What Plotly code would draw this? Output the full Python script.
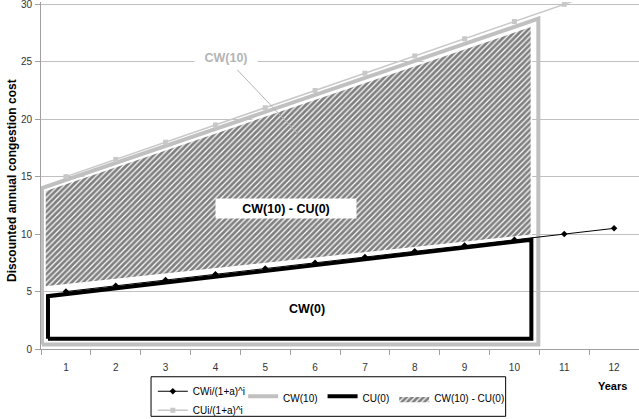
import plotly.graph_objects as go

# ---- data ----
years = list(range(1, 13))
year_labels = [str(y) for y in years]
cw_disc = [5.0, 5.5, 6.0, 6.5, 7.0, 7.5, 8.0, 8.5, 9.0, 9.5, 10.0, 10.5]
cu_disc = [15.0, 16.5, 18.0, 19.5, 21.0, 22.5, 24.0, 25.5, 27.0, 28.5, 30.0, 31.5]

# polygon outlines (x in year units, y in cost units)
cw10_x = [0.52, 0.52, 10.48, 10.48, 0.52]
cw10_y = [0.4, 14.0, 28.75, 0.4, 0.4]
diff_x = [0.58, 0.58, 10.34, 10.34, 0.58]
diff_y = [5.4, 13.8, 28.1, 9.9, 5.4]
cu0_x = [0.64, 0.64, 10.34, 10.34, 0.64]
cu0_y = [0.9, 4.6, 9.5, 0.9, 0.9]

y_ticks = [0, 5, 10, 15, 20, 25, 30]
boundaries = [y - 0.5 for y in years] + [12.5]

FONT = "Liberation Sans, Arial, sans-serif"
GRAY = "#c0c0c0"

fig = go.Figure()

fig.add_trace(go.Scatter(
    x=cw10_x, y=cw10_y, mode="lines", fill="toself",
    fillcolor="rgba(255,255,255,0)", line=dict(color=GRAY, width=4),
    name="CW(10)", legend="legend2", legendrank=1, hoverinfo="skip"))

fig.add_trace(go.Scatter(
    x=diff_x, y=diff_y, mode="lines", fill="toself",
    fillcolor="white",
    fillpattern=dict(shape="/", fgcolor="black", bgcolor="white", size=4, solidity=0.7),
    line=dict(color="white", width=1.5),
    name="CW(10) - CU(0)", legend="legend2", legendrank=3, hoverinfo="skip"))

fig.add_trace(go.Scatter(
    x=cu0_x, y=cu0_y, mode="lines", fill="toself",
    fillcolor="rgba(255,255,255,0)", line=dict(color="black", width=4),
    name="CU(0)", legend="legend2", legendrank=2, hoverinfo="skip"))

fig.add_trace(go.Scatter(
    x=years, y=cw_disc, mode="lines+markers",
    line=dict(color="black", width=1),
    marker=dict(symbol="diamond", size=5, color="black"),
    name="CWi/(1+a)^i", legend="legend"))

fig.add_trace(go.Scatter(
    x=years, y=cu_disc, mode="lines+markers",
    line=dict(color="#c8c8c8", width=1.5),
    marker=dict(symbol="square", size=5, color="#c8c8c8"),
    name="CUi/(1+a)^i", legend="legend"))

fig.update_layout(
    width=639, height=419,
    margin=dict(l=41, r=0, t=2, b=70, autoexpand=False),
    paper_bgcolor="white", plot_bgcolor="white",
    font=dict(family=FONT, size=10, color="#333333"),
    xaxis=dict(
        range=[0.5, 12.5], tickvals=years, ticktext=year_labels,
        ticks="", showgrid=False, zeroline=False,
        showline=True, linecolor="#a0a0a0", linewidth=1,
        tickfont=dict(size=10, color="#333333"),
        ticklabelstandoff=9, automargin=False,
        minor=dict(tickvals=boundaries, ticks="outside", ticklen=5,
                   tickcolor="#a0a0a0", showgrid=False),
    ),
    yaxis=dict(
        range=[0, 30.2], tickvals=y_ticks, ticks="outside", ticklen=5,
        tickcolor="#a0a0a0", showgrid=True, gridcolor=GRAY, gridwidth=1,
        zeroline=False, showline=True, linecolor="#a0a0a0", linewidth=1,
        tickfont=dict(size=10, color="#333333"),
        ticklabeloverflow="allow", ticklabelstandoff=1,
        automargin=False,
    ),
    legend=dict(orientation="v", x=0.187, y=-0.08, xanchor="left", yanchor="top",
                bgcolor="rgba(0,0,0,0)", font=dict(size=10, color="black"),
                itemwidth=30, tracegroupgap=0),
    legend2=dict(orientation="h", x=0.338, y=-0.142, xanchor="left", yanchor="middle",
                 bgcolor="rgba(0,0,0,0)", font=dict(size=10, color="black"),
                 itemwidth=30, traceorder="normal"),
    showlegend=True,
)

fig.add_shape(type="rect", xref="paper", yref="paper",
              x0=0.184, x1=0.777, y0=-0.194, y1=-0.08,
              line=dict(color="black", width=1), fillcolor="rgba(0,0,0,0)")

fig.add_annotation(xref="paper", yref="paper", x=-0.0485, y=0.487,
                   xanchor="center", yanchor="middle", textangle=-90,
                   text="<b>Discounted annual congestion cost</b>", showarrow=False,
                   font=dict(size=12, color="black", family=FONT))
fig.add_annotation(x=5.64, y=18.8, ax=4.22, ay=25.3, axref="x", ayref="y",
                   text="<b>CW(10)</b>", font=dict(size=12.5, color="#b4b4b4", family=FONT),
                   bgcolor="white", width=60, height=20,
                   showarrow=True, arrowcolor="#b4b4b4", arrowwidth=1,
                   arrowhead=7, arrowsize=0.6)
fig.add_annotation(x=5.42, y=12.25, text="<b>CW(10) - CU(0)</b>", showarrow=False,
                   font=dict(size=12.5, color="black", family=FONT),
                   bgcolor="white", width=138, height=17)
fig.add_annotation(x=5.84, y=3.46, text="<b>CW(0)</b>", showarrow=False,
                   font=dict(size=12.5, color="black", family=FONT))
fig.add_annotation(xref="paper", yref="paper", x=0.955, y=-0.107,
                   xanchor="center", yanchor="middle",
                   text="<b>Years</b>", showarrow=False,
                   font=dict(size=11, color="black", family=FONT))

fig.write_html("out.html", config={"displayModeBar": False},
               post_script="document.body.style.margin='0';")
